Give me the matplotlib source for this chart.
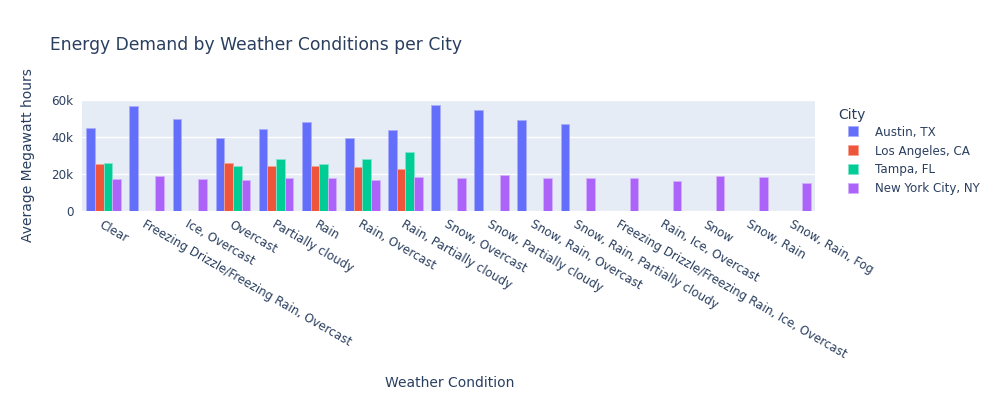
import matplotlib
matplotlib.use("Agg")
import matplotlib.pyplot as plt
import numpy as np
from matplotlib.ticker import FuncFormatter

conditions = ["Clear", "Freezing Drizzle/Freezing Rain, Overcast", "Ice, Overcast", "Overcast",
              "Partially cloudy", "Rain", "Rain, Overcast", "Rain, Partially cloudy",
              "Snow, Overcast", "Snow, Partially cloudy", "Snow, Rain, Overcast",
              "Snow, Rain, Partially cloudy", "Freezing Drizzle/Freezing Rain, Ice, Overcast",
              "Rain, Ice, Overcast", "Snow", "Snow, Rain", "Snow, Rain, Fog"]
nan = np.nan
austin = [44600, 56900, 50000, 39600, 44300, 47900, 39200, 43600, 57100, 54400, 49100, 47200,
          nan, nan, nan, nan, nan]
los_angeles = [25400, nan, nan, 25700, 24300, 24300, 23900, 22700, nan, nan, nan, nan,
               nan, nan, nan, nan, nan]
tampa = [25900, nan, nan, 24100, 28300, 25200, 27900, 31700, nan, nan, nan, nan,
         nan, nan, nan, nan, nan]
new_york = [17500, 18700, 17300, 16700, 17800, 17800, 16700, 18200, 18000, 19400, 18000, 18000,
            17600, 16000, 19100, 18400, 15300]
cities = ["Austin, TX", "Los Angeles, CA", "Tampa, FL", "New York City, NY"]
series = [austin, los_angeles, tampa, new_york]
colors = ["#636EFA", "#EF553B", "#00CC96", "#AB63FA"]
edge_colors = ["#A9AEFC", "#F6A193", "#80E5CA", "#D5B1FC"]

plt.rcParams["font.family"] = ["DejaVu Sans"]
txt = "#2a3f5f"
fig = plt.figure(figsize=(10, 4), dpi=100)
ax = fig.add_axes([0.082, 0.4725, 0.733, 0.2775])
ax.set_facecolor("#E5ECF6")
x = np.arange(len(conditions))
w = 0.2
for i, (name, vals) in enumerate(zip(cities, series)):
    ax.bar(x + (i - 1.5) * w, vals, width=w, color=colors[i], edgecolor=edge_colors[i],
           linewidth=0.6, label=name, zorder=3)
ax.set_xlim(-0.5, len(conditions) - 0.5)
ax.set_ylim(0, 60000)
ax.set_yticks([0, 20000, 40000, 60000])
ax.yaxis.set_major_formatter(FuncFormatter(lambda v, p: "0" if v == 0 else f"{int(v/1000)}k"))
ax.grid(axis="y", color="white", linewidth=1, zorder=0)
for s in ax.spines.values():
    s.set_visible(False)
ax.tick_params(axis="both", length=0, colors=txt, labelsize=8.6)
ax.tick_params(axis="y", pad=6)
ax.set_xticks(x)
ax.set_xticklabels(conditions, rotation=-30, ha="left", va="top", rotation_mode="anchor")
ax.tick_params(axis="x", pad=5)
fig.text(0.05, 0.888, "Energy Demand by Weather Conditions per City", fontsize=12.3, color=txt,
         va="center", ha="left")
fig.text(0.028, 0.612, "Average Megawatt hours", fontsize=10, color=txt, rotation=90,
         va="center", ha="center")
fig.text(0.45, 0.043, "Weather Condition", fontsize=10, color=txt, va="center", ha="center")
fig.text(0.838, 0.712, "City", fontsize=10, color=txt, va="center", ha="left")
leg = ax.legend(loc="upper left", bbox_to_anchor=(0.838, 0.71), bbox_transform=fig.transFigure,
                frameon=False, fontsize=8.6, handlelength=0.9, handleheight=0.9,
                labelspacing=0.5, handletextpad=1.4, borderpad=0.3)
for t in leg.get_texts():
    t.set_color(txt)
fig.savefig("out.png", dpi=100)
